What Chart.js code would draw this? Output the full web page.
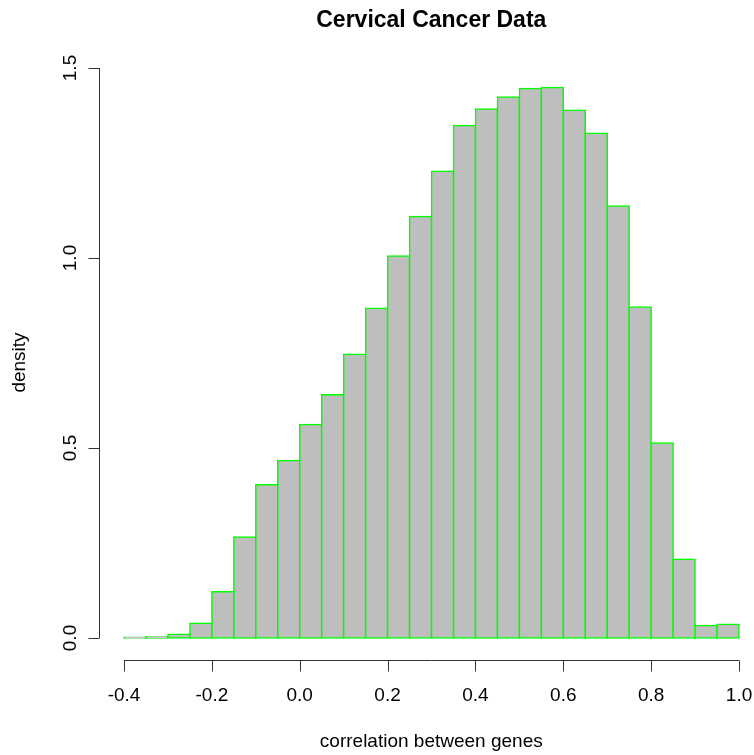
<!DOCTYPE html>
<html>
<head>
<meta charset="utf-8">
<script src="https://cdn.jsdelivr.net/npm/chart.js@4.4.0/dist/chart.umd.min.js"></script>
<style>
    html, body { margin: 0; padding: 0; background: #fff; }
    #wrap { width: 754px; height: 755px; }
</style>
</head>
<body>
<div id="wrap"><canvas id="myChart"></canvas></div>
<script>
// histogram bins (left edge), width 0.05
const binStarts = [-0.40, -0.35, -0.30, -0.25, -0.20, -0.15, -0.10, -0.05,
    0.00, 0.05, 0.10, 0.15, 0.20, 0.25, 0.30, 0.35, 0.40, 0.45, 0.50, 0.55,
    0.60, 0.65, 0.70, 0.75, 0.80, 0.85, 0.90, 0.95];
const binWidth = 0.05;
const density = [0.002, 0.004, 0.010, 0.039, 0.122, 0.266, 0.403, 0.467,
    0.562, 0.640, 0.747, 0.868, 1.005, 1.109, 1.228, 1.349, 1.392, 1.424, 1.446, 1.449,
    1.389, 1.328, 1.137, 0.871, 0.513, 0.207, 0.033, 0.036];

const xTicks = [-0.4, -0.2, 0.0, 0.2, 0.4, 0.6, 0.8, 1.0];
const xTickLabels = ["-0.4", "-0.2", "0.0", "0.2", "0.4", "0.6", "0.8", "1.0"];
const yTicks = [0.0, 0.5, 1.0, 1.5];
const yTickLabels = ["0.0", "0.5", "1.0", "1.5"];

const titleText = "Cervical Cancer Data";
const xTitle = "correlation between genes";
const yTitle = "density";
const fontFamily = "'Liberation Sans', Arial, Helvetica, sans-serif";

// base R style axes, drawn from the chart scales
const rAxes = {
    id: 'rAxes',
    afterDraw: function (chart) {
        const ctx = chart.ctx;
        const x = chart.scales.x;
        const y = chart.scales.y;
        const area = chart.chartArea;
        ctx.save();
        ctx.strokeStyle = '#333';
        ctx.lineWidth = 1;
        ctx.fillStyle = '#000';

        // x axis
        const ax = Math.round(area.bottom) + 0.5;
        ctx.beginPath();
        ctx.moveTo(x.getPixelForValue(xTicks[0]), ax);
        ctx.lineTo(x.getPixelForValue(xTicks[xTicks.length - 1]), ax);
        xTicks.forEach(function (t) {
            const px = Math.round(x.getPixelForValue(t)) + 0.5;
            ctx.moveTo(px, ax);
            ctx.lineTo(px, ax + 11);
        });
        ctx.stroke();
        ctx.font = "19px " + fontFamily;
        ctx.textAlign = 'center';
        ctx.textBaseline = 'alphabetic';
        xTicks.forEach(function (t, i) {
            ctx.fillText(xTickLabels[i], x.getPixelForValue(t), 701);
        });

        // y axis
        const ay = Math.round(area.left) + 0.5;
        ctx.beginPath();
        ctx.moveTo(ay, y.getPixelForValue(yTicks[0]));
        ctx.lineTo(ay, y.getPixelForValue(yTicks[yTicks.length - 1]));
        yTicks.forEach(function (t) {
            const py = Math.round(y.getPixelForValue(t)) + 0.5;
            ctx.moveTo(ay, py);
            ctx.lineTo(ay - 11, py);
        });
        ctx.stroke();
        yTicks.forEach(function (t, i) {
            ctx.save();
            ctx.translate(76, y.getPixelForValue(t));
            ctx.rotate(-Math.PI / 2);
            ctx.fillText(yTickLabels[i], 0, 0);
            ctx.restore();
        });

        // titles
        const cx = (area.left + 763.6) / 2;
        ctx.fillText(xTitle, cx, 747);
        ctx.save();
        ctx.translate(25, (area.top + area.bottom) / 2);
        ctx.rotate(-Math.PI / 2);
        ctx.fillText(yTitle, 0, 0);
        ctx.restore();

        ctx.font = "bold 23px " + fontFamily;
        ctx.fillText(titleText, cx, 27);
        ctx.restore();
    }
};

new Chart("myChart", {
    type: "bar",
    data: {
        datasets: [{
            data: binStarts.map(function (s, i) {
                return {x: s + binWidth / 2, y: density[i]};
            }),
            backgroundColor: "#BEBEBE",
            borderColor: "#00FF00",
            borderWidth: 1.5,
            borderSkipped: false,
            inflateAmount: 0.75,
            barPercentage: 1,
            categoryPercentage: 1
        }]
    },
    options: {
        responsive: true,
        maintainAspectRatio: false,
        animation: false,
        layout: {padding: {left: 99, top: 65, right: 0, bottom: 95}},
        plugins: {
            legend: {display: false},
            tooltip: {enabled: false}
        },
        scales: {
            x: {type: 'linear', display: false, offset: false, min: -0.4569, max: 1.0341},
            y: {type: 'linear', display: false, min: -0.0579, max: 1.5079}
        }
    },
    plugins: [rAxes]
});
</script>
</body>
</html>
